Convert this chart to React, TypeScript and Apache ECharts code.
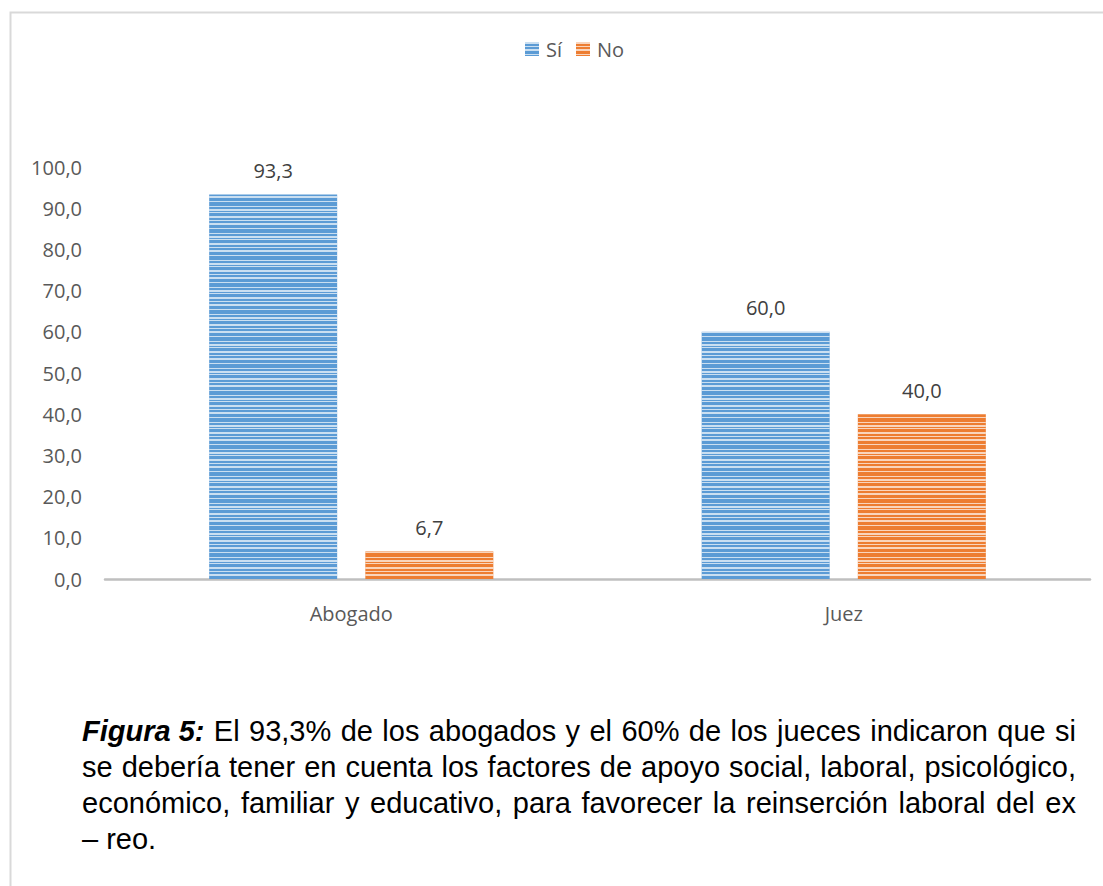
import React, { useEffect, useRef } from "react";
import * as echarts from "echarts";

const categories = ["Abogado", "Juez"];
const seriesNames = ["Sí", "No"];
const siValues = [93.3, 60.0];
const noValues = [6.7, 40.0];
const yMin = 0;
const yMax = 100;
const yInterval = 10;

const captionLead = "Figura 5:";
const captionLines = [
  "El 93,3% de los abogados y el 60% de los jueces indicaron que si",
  "se debería tener en cuenta los factores de apoyo social, laboral, psicológico,",
  "económico, familiar y educativo, para favorecer la reinserción laboral del ex",
  "– reo.",
];

const fmt = (v: number) => v.toFixed(1).replace(".", ",");
const LABEL_FONT = '"Open Sans", sans-serif';
const CAP_FONT = '"Liberation Sans", Arial, sans-serif';

function buildCaption() {
  const size = 29;
  const left = 82;
  const right = 1076;
  const baseY = 730.5;
  const lh = 36;
  const canvas = document.createElement("canvas");
  const ctx = canvas.getContext("2d") as CanvasRenderingContext2D;
  const els: any[] = [];
  captionLines.forEach((line, i) => {
    const words = line.split(" ").map((t) => ({ t, bold: false }));
    if (i === 0) words.unshift({ t: captionLead, bold: true });
    const widths = words.map((w) => {
      ctx.font = `${w.bold ? "italic bold " : ""}${size}px ${CAP_FONT}`;
      return ctx.measureText(w.t).width;
    });
    ctx.font = `${size}px ${CAP_FONT}`;
    const sp = ctx.measureText(" ").width;
    const total = widths.reduce((a, b) => a + b, 0);
    const last = i === captionLines.length - 1;
    const gap = last ? sp : (right - left - total) / (words.length - 1);
    let x = left;
    words.forEach((w, j) => {
      els.push({
        type: "text",
        x,
        y: baseY + i * lh,
        silent: true,
        style: {
          text: w.t,
          fontSize: size,
          fontFamily: CAP_FONT,
          fontWeight: w.bold ? "bold" : "normal",
          fontStyle: w.bold ? "italic" : "normal",
          fill: "#000000",
          align: "left",
          verticalAlign: "middle",
        },
      });
      x += widths[j] + gap;
    });
  });
  return els;
}

const stripeDecal = {
  symbol: "rect",
  symbolSize: 1,
  color: "rgba(255,255,255,0.68)",
  dashArrayX: [400, 0],
  dashArrayY: [2, 2, 1, 2, 2, 3, 1, 4, 1, 2, 2, 1, 1, 3],
  rotation: 0,
};

export default function App() {
  const ref = useRef<HTMLDivElement>(null);
  useEffect(() => {
    if (!ref.current) return;
    const chart = echarts.init(ref.current, null, { renderer: "svg" });
    const labelCfg = {
      show: true,
      position: "top",
      distance: 14,
      fontSize: 20,
      color: "#404040",
      fontFamily: LABEL_FONT,
      formatter: (p: any) => fmt(p.value),
    };
    chart.setOption({
      animation: false,
      backgroundColor: "#ffffff",
      legend: {
        data: seriesNames,
        left: 520,
        top: 34,
        itemWidth: 14,
        itemHeight: 14,
        itemGap: 14,
        icon: "rect",
        textStyle: { fontSize: 20, color: "#595959", fontFamily: LABEL_FONT, padding: [0, 0, 0, 2] },
      },
      grid: { left: 105, right: 13, top: 167, bottom: 307 },
      xAxis: {
        type: "category",
        data: categories,
        axisLine: { lineStyle: { color: "#bfbfbf", width: 2.5 } },
        axisTick: { show: false },
        axisLabel: { fontSize: 20, color: "#595959", margin: 24, fontFamily: LABEL_FONT },
      },
      yAxis: {
        type: "value",
        min: yMin,
        max: yMax,
        interval: yInterval,
        axisLine: { show: false },
        axisTick: { show: false },
        splitLine: { show: false },
        axisLabel: {
          fontSize: 20,
          color: "#595959",
          margin: 23,
          fontFamily: LABEL_FONT,
          formatter: (v: number) => fmt(v),
        },
      },
      series: [
        {
          name: seriesNames[0],
          type: "bar",
          data: siValues,
          barWidth: 128,
          barGap: "22%",
          itemStyle: { color: "#5b9bd5", decal: stripeDecal },
          label: labelCfg,
        },
        {
          name: seriesNames[1],
          type: "bar",
          data: noValues,
          barWidth: 128,
          barGap: "22%",
          itemStyle: { color: "#ed7d31", decal: stripeDecal },
          label: labelCfg,
        },
      ],
      graphic: [
        {
          type: "rect",
          silent: true,
          z: -10,
          shape: { x: 10.5, y: 12.5, width: 1200, height: 1000 },
          style: { fill: "none", stroke: "#d9d9d9", lineWidth: 2 },
        },
        ...buildCaption(),
      ],
    });
    return () => chart.dispose();
  }, []);
  return (
    <div
      ref={ref}
      style={{ position: "absolute", left: 0, top: 0, width: 1103, height: 886 }}
    />
  );
}
